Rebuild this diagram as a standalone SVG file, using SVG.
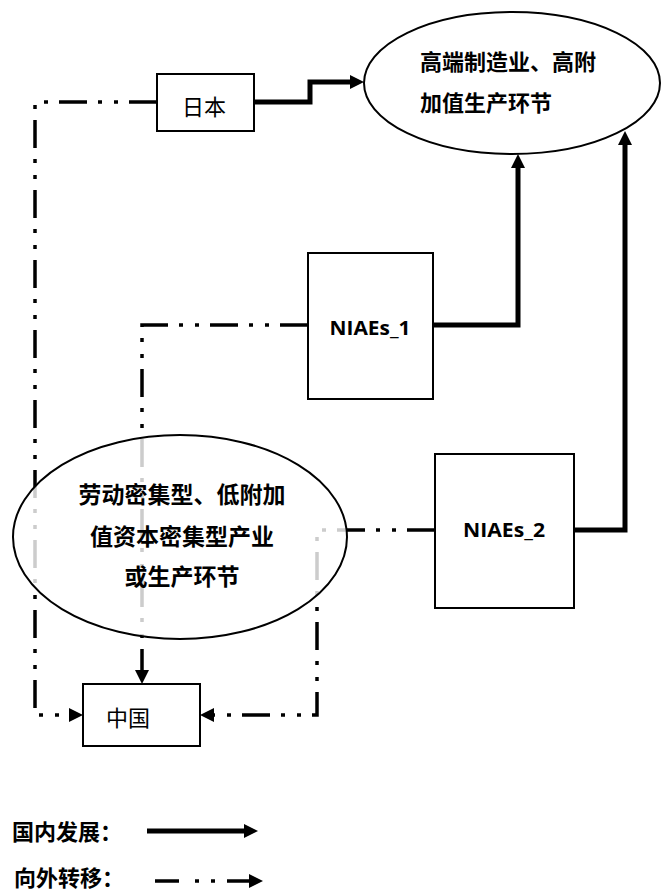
<svg xmlns="http://www.w3.org/2000/svg" width="662" height="895" viewBox="0 0 662 895">
<style>
.box{fill:#fff;stroke:#000;stroke-width:2}
.ell{fill:#fff;stroke:#000;stroke-width:2}
.solid{fill:none;stroke:#000;stroke-width:5}
.dash{fill:none;stroke:#000;stroke-width:3.5;stroke-dasharray:28 11 4 12 4 11}
.cn{font-family:"Noto Sans CJK SC",sans-serif;fill:#000}
.b{font-weight:bold}
.en{font-family:"Open Sans","Liberation Sans",sans-serif;font-weight:bold;font-size:19px;fill:#000}
</style>
<defs>
<marker id="ah" markerUnits="userSpaceOnUse" markerWidth="16" markerHeight="14" refX="0" refY="7" orient="auto" overflow="visible">
<path d="M0,0 L14,7 L0,14 z" fill="#000"/>
</marker>
</defs>
<g id="connectors">
<path class="dash" d="M157,102 H35 V715 H69" marker-end="url(#ah)"/>
<path class="dash" d="M308,325 H142 V670" marker-end="url(#ah)"/>
<path class="dash" d="M435,530 H317 V715 H214" marker-end="url(#ah)"/>
<path class="solid" d="M254,102 H310 V82 H350" marker-end="url(#ah)"/>
<path class="solid" d="M433,325 H518 V168" marker-end="url(#ah)"/>
<path class="solid" d="M574,530 H625 V145" marker-end="url(#ah)"/>
</g>
<g id="high-end">
<ellipse class="ell" cx="512" cy="83" rx="148" ry="71"/>
<text class="cn b" font-size="22" x="420" y="70">高端制造业、高附</text>
<text class="cn b" font-size="22" x="420" y="111">加值生产环节</text>
</g>
<g id="japan">
<rect class="box" x="157" y="74" width="97" height="57"/>
<text class="cn" font-size="22" x="204" y="115" text-anchor="middle">日本</text>
</g>
<g id="niaes1">
<rect class="box" x="308" y="253" width="125" height="146"/>
<text class="en" x="370" y="335" text-anchor="middle" textLength="81" lengthAdjust="spacingAndGlyphs">NIAEs_1</text>
</g>
<g id="niaes2">
<rect class="box" x="435" y="454" width="139" height="154"/>
<text class="en" x="504" y="537" text-anchor="middle" textLength="82" lengthAdjust="spacingAndGlyphs">NIAEs_2</text>
</g>
<g id="low-end">
<ellipse class="ell" cx="180" cy="537" rx="167" ry="102" fill-opacity="0.8"/>
<text class="cn b" font-size="23" x="182" y="503" text-anchor="middle">劳动密集型、低附加</text>
<text class="cn b" font-size="23" x="182" y="545" text-anchor="middle">值资本密集型产业</text>
<text class="cn b" font-size="23" x="182" y="585" text-anchor="middle">或生产环节</text>
</g>
<g id="china">
<rect class="box" x="83" y="684" width="117" height="62"/>
<text class="cn" font-size="22" x="128" y="726" text-anchor="middle">中国</text>
</g>
<g id="legend">
<text class="cn b" font-size="22" x="12" y="840">国内发展：</text>
<path class="solid" d="M147,831 H244" marker-end="url(#ah)"/>
<text class="cn b" font-size="22" x="14" y="886">向外转移：</text>
<path fill="none" stroke="#000" stroke-width="3.5" stroke-dasharray="24 16 4 12 4 12" d="M155,881 H249" marker-end="url(#ah)"/>
</g>
</svg>
